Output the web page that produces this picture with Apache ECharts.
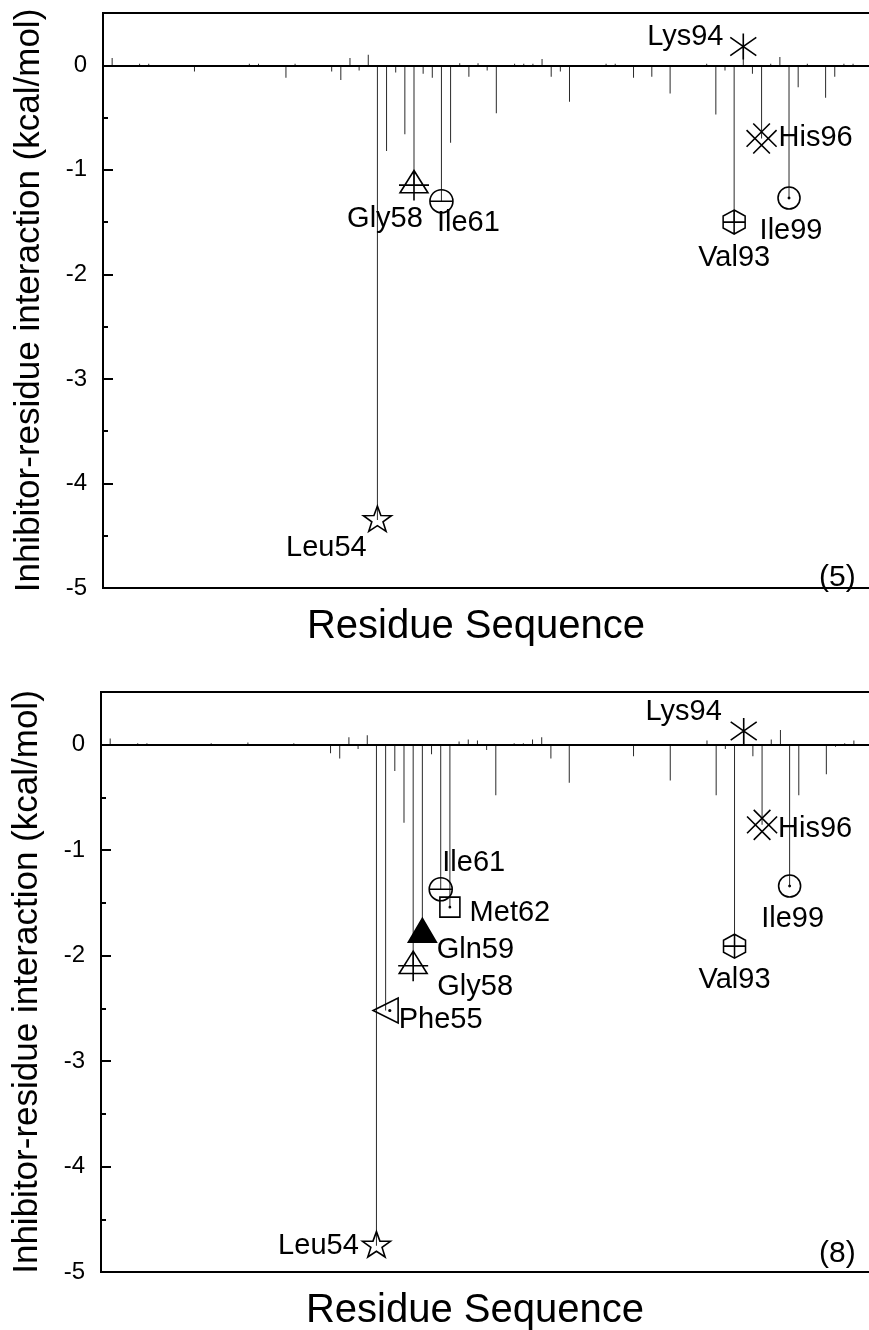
<!DOCTYPE html>
<html>
<head>
<meta charset="utf-8">
<script src="https://cdn.jsdelivr.net/npm/echarts@6/dist/echarts.min.js"></script>
<style>
  html, body { margin: 0; padding: 0; background: #ffffff; }
  #chart { width: 869px; height: 1330px; }
</style>
</head>
<body>
<div id="chart"></div>
<script>
  // compound (5)
  const residues5 = [25, 28, 29, 34, 35, 40, 41, 44, 45, 49, 50, 51, 52, 53, 54, 55, 56, 57, 58, 59, 60, 61, 62, 63, 64, 65, 66, 67, 69, 70, 71, 72, 73, 74, 75, 76, 77, 79, 80, 82, 84, 86, 90, 91, 92, 93, 94, 95, 96, 97, 98, 99, 100, 101, 103, 104, 105, 106];
  const values5 = [0.07, 0.015, 0.015, -0.06, -0.01, 0.015, 0.015, -0.12, 0.015, -0.06, -0.14, 0.07, -0.05, 0.10, -4.35, -0.82, -0.07, -0.66, -1.15, -0.08, -0.12, -1.30, -0.74, 0.02, -0.11, 0.02, -0.05, -0.46, 0.015, 0.015, 0.015, 0.06, -0.11, -0.06, -0.35, -0.01, -0.01, 0.015, 0.015, -0.12, -0.11, -0.27, 0.015, -0.47, -0.05, -1.50, 0.18, -0.08, -0.70, 0.015, 0.08, -1.27, -0.21, 0.015, -0.31, -0.11, 0.015, 0.015];
  const keyNames5 = ['Leu54', 'Gly58', 'Ile61', 'Val93', 'Lys94', 'His96', 'Ile99'];
  const keyResidues5 = [54, 58, 61, 93, 94, 96, 99];

  // compound (8)
  const residues8 = [25, 28, 29, 34, 35, 36, 38, 40, 41, 45, 49, 50, 51, 52, 53, 54, 55, 56, 57, 58, 59, 60, 61, 62, 63, 64, 65, 66, 67, 69, 70, 71, 72, 73, 75, 77, 82, 83, 86, 89, 90, 91, 92, 93, 94, 95, 96, 97, 98, 99, 100, 103, 104, 105, 106];
  const values8 = [0.06, 0.015, 0.015, -0.01, -0.01, 0.015, -0.01, 0.02, -0.01, 0.015, -0.08, -0.13, 0.07, -0.04, 0.09, -4.75, -2.52, -0.25, -0.74, -2.10, -1.76, -0.09, -1.37, -1.54, 0.03, 0.05, 0.04, -0.05, -0.48, 0.015, 0.015, 0.05, 0.07, -0.13, -0.36, -0.01, -0.11, -0.01, -0.34, -0.01, 0.04, -0.48, -0.04, -1.91, 0.13, -0.11, -0.76, 0.05, 0.14, -1.34, -0.48, -0.28, -0.02, 0.015, 0.04];
  const keyNames8 = ['Leu54', 'Phe55', 'Gly58', 'Gln59', 'Ile61', 'Met62', 'Val93', 'Lys94', 'His96', 'Ile99'];
  const keyResidues8 = [54, 55, 58, 59, 61, 62, 93, 94, 96, 99];

  const panelTags = ['(5)', '(8)'];
  const xTitle = 'Residue Sequence';
  const yTitle = 'Inhibitor-residue interaction (kcal/mol)';

  const FONT = '"Liberation Sans", Arial, Helvetica, sans-serif';

  // marker shapes
  const SYM = {
    star: 'path://M10 0L12.35 6.76L19.51 6.91L13.8 11.24L15.88 18.09L10 14L4.12 18.09L6.2 11.24L0.49 6.91L7.65 6.76Z M10 20',
    triCross: 'path://M10 0.5L19.3 15L0.7 15Z M0 10L20 10 M10 0.5L10 20',
    circleBar: 'path://M0 10A10 10 0 1 0 20 10A10 10 0 1 0 0 10Z M0 10L20 10',
    hexPlus: 'path://M10 0L18.66 5L18.66 15L10 20L1.34 15L1.34 5Z M1.34 10L18.66 10 M10 0L10 20',
    asterisk: 'path://M10 0L10 20 M2.5 3L17.5 17 M2.5 17L17.5 3',
    crossHatch: 'path://M1 5L15 19 M5 1L19 15 M5 19L19 5 M1 15L15 1',
    circleDot: 'path://M0 10A10 10 0 1 0 20 10A10 10 0 1 0 0 10Z M9.4 10A0.6 0.6 0 1 0 10.6 10A0.6 0.6 0 1 0 9.4 10Z',
    triLeftDot: 'path://M1 10L19 0.5L19 19.5Z M12.4 10A0.6 0.6 0 1 0 13.6 10A0.6 0.6 0 1 0 12.4 10Z',
    squareDot: 'path://M0 0L20 0L20 20L0 20Z M9.4 10A0.6 0.6 0 1 0 10.6 10A0.6 0.6 0 1 0 9.4 10Z'
  };

  const markerLook = {
    Leu54: { symbol: SYM.star, size: 28 },
    Phe55: { symbol: SYM.triLeftDot, size: 25 },
    Gly58: { symbol: SYM.triCross, size: 30 },
    Gln59: { symbol: 'triangle', size: [28, 24], filled: true },
    Ile61: { symbol: SYM.circleBar, size: 23 },
    Met62: { symbol: SYM.squareDot, size: 20 },
    Val93: { symbol: SYM.hexPlus, size: [22, 24] },
    Lys94: { symbol: SYM.asterisk, size: 26 },
    His96: { symbol: SYM.crossHatch, size: 30 },
    Ile99: { symbol: SYM.circleDot, size: 22 }
  };

  // label offsets (px) from marker centre
  const labelShift = [
    { Leu54: [-51, 28], Gly58: [-29, 33], Ile61: [27, 22], Val93: [0, 36], Lys94: [-58, -9], His96: [54, 0], Ile99: [2, 33] },
    { Leu54: [-58, 0], Phe55: [55, 10], Gly58: [62, 21], Gln59: [53, 20], Ile61: [33, -26], Met62: [60, 6], Val93: [0, 34], Lys94: [-60, -19], His96: [53, 4], Ile99: [3, 33] }
  ];

  const panels = [
    { residues: residues5, values: values5, names: keyNames5, keys: keyResidues5, grid: { left: 103, top: 13, right: -6, height: 575 }, max: 108.4 },
    { residues: residues8, values: values8, names: keyNames8, keys: keyResidues8, grid: { left: 101, top: 692, right: -6, height: 580 }, max: 108.3 }
  ];

  const grids = [], xAxes = [], yAxes = [], series = [], graphics = [];

  panels.forEach((p, g) => {
    grids.push(Object.assign({
      show: true, borderColor: '#000', borderWidth: 2, backgroundColor: 'transparent',
      containLabel: false, outerBoundsMode: 'none'
    }, p.grid));

    xAxes.push({
      gridIndex: g, type: 'value', min: 24, max: p.max,
      axisLine: { show: true, lineStyle: { color: '#000', width: 2 } },
      axisTick: { show: false }, axisLabel: { show: false }, splitLine: { show: false },
      name: xTitle, nameLocation: 'middle', nameGap: 19,
      nameTextStyle: { fontSize: 40, color: '#000', fontFamily: FONT, padding: [0, 26, 0, 0] }
    });

    yAxes.push({
      gridIndex: g, type: 'value', position: 'left', min: -5, max: 0.5, interval: 1,
      axisLine: { show: true, lineStyle: { color: '#000', width: 2 } },
      axisTick: { show: true, inside: true, length: 10, lineStyle: { color: '#000', width: 2 } },
      axisLabel: { fontSize: 24, color: '#000', margin: 16, fontFamily: FONT, showMaxLabel: false },
      splitLine: { show: false },
      name: yTitle, nameLocation: 'middle', nameGap: 56, nameRotate: 90,
      nameTextStyle: { fontSize: 35, color: '#000', fontFamily: FONT }
    });
    // half-unit ticks
    yAxes.push({
      gridIndex: g, type: 'value', position: 'left', min: -5, max: 0.5, interval: 0.5,
      axisLine: { show: false },
      axisTick: { show: true, inside: true, length: 5, lineStyle: { color: '#000', width: 2 } },
      axisLabel: { show: false }, splitLine: { show: false }
    });

    series.push({
      type: 'bar', xAxisIndex: g, yAxisIndex: g * 2, barWidth: 1,
      data: p.residues.map((r, i) => [r, p.values[i]]),
      itemStyle: { color: '#2a2a2a' },
      silent: true,
      markLine: {
        silent: true, symbol: ['none', 'none'], label: { show: false },
        lineStyle: { color: '#000', width: 2, type: 'solid' },
        data: [{ yAxis: 0 }]
      }
    });

    series.push({
      type: 'scatter', xAxisIndex: g, yAxisIndex: g * 2, z: 5,
      itemStyle: { color: 'rgba(0,0,0,0)', borderColor: '#000', borderWidth: 1.6, opacity: 1 },
      data: p.names.map((name, i) => {
        const r = p.keys[i];
        const v = p.values[p.residues.indexOf(r)];
        const look = markerLook[name];
        const item = {
          name: name, value: [r, v], symbol: look.symbol, symbolSize: look.size,
          label: {
            show: true, position: 'inside', offset: labelShift[g][name], formatter: '{b}',
            fontSize: 29, color: '#000', fontFamily: FONT
          }
        };
        if (look.filled) item.itemStyle = { color: '#000', opacity: 1 };
        return item;
      })
    });

    graphics.push({
      type: 'text', left: 819, top: g === 0 ? 563 : 1239,
      style: { text: panelTags[g], fontSize: 30, fill: '#000', fontFamily: FONT }
    });
  });

  const option = {
    animation: false,
    backgroundColor: '#ffffff',
    grid: grids,
    xAxis: xAxes,
    yAxis: yAxes,
    series: series,
    graphic: graphics
  };

  const myChart = echarts.init(document.getElementById('chart'));
  myChart.setOption(option);
  window.addEventListener('resize', function () {
    myChart && myChart.resize();
  });
</script>
</body>
</html>
